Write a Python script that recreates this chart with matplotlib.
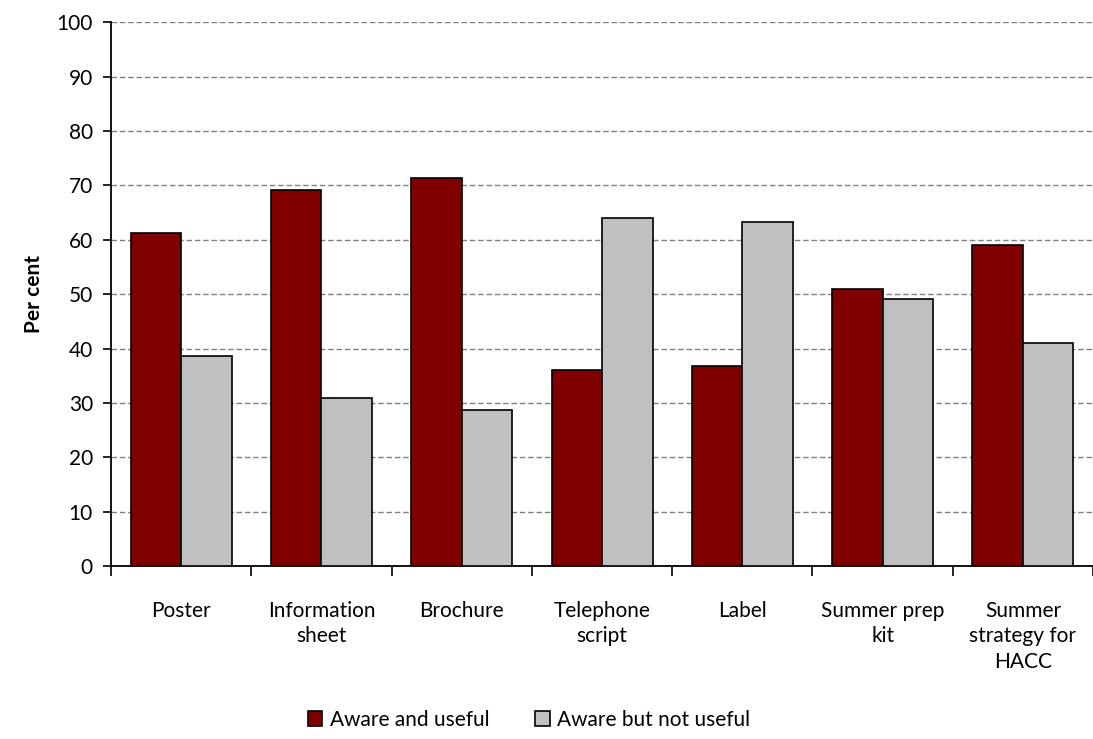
import numpy as np
import matplotlib.pyplot as plt
from matplotlib import rcParams

rcParams['font.family'] = ['Lato', 'DejaVu Sans']

categories = ["Poster", "Information\nsheet", "Brochure", "Telephone\nscript",
              "Label", "Summer prep\nkit", "Summer\nstrategy for\nHACC"]
aware_useful = [61.3, 69.1, 71.3, 36.0, 36.7, 50.9, 59.0]
aware_not_useful = [38.7, 30.9, 28.7, 64.0, 63.3, 49.1, 41.0]
series_names = ["Aware and useful", "Aware but not useful"]
y_ticks = list(range(0, 101, 10))


def main():
    fig = plt.figure(figsize=(10.93, 7.39), dpi=100)
    ax = fig.add_axes([0.1016, 0.234, 0.8984, 0.736])

    x = np.arange(len(categories))
    w = 0.36
    ax.bar(x - w / 2, aware_useful, w, color="#800000", edgecolor="black",
           linewidth=1.2, label=series_names[0], zorder=3)
    ax.bar(x + w / 2, aware_not_useful, w, color="#c0c0c0", edgecolor="black",
           linewidth=1.2, label=series_names[1], zorder=3)

    ax.set_xlim(-0.5, len(categories) - 0.5)
    ax.set_ylim(0, 100)
    ax.set_yticks(y_ticks)
    ax.yaxis.grid(True, linestyle=(0, (4, 2)), color="#808080", linewidth=1.0, zorder=0)
    ax.set_axisbelow(True)

    # category boundaries as major ticks, labels on minor ticks
    ax.set_xticks(np.arange(len(categories) + 1) - 0.5)
    ax.set_xticklabels([])
    ax.set_xticks(x, minor=True)
    ax.set_xticklabels(categories, minor=True, fontsize=15, linespacing=1.35)
    ax.tick_params(axis="x", which="minor", length=0, pad=25)
    ax.tick_params(axis="x", which="major", length=7, width=1.2, direction="out")
    ax.tick_params(axis="y", length=6, width=1.2, labelsize=15, pad=7)

    for side in ["top", "right"]:
        ax.spines[side].set_visible(False)
    ax.spines["left"].set_linewidth(1.3)
    ax.spines["bottom"].set_linewidth(1.3)

    ax.set_ylabel("Per cent", fontsize=15, fontweight="bold", labelpad=9)

    fig.legend(loc="center", bbox_to_anchor=(0.484, 0.026), ncol=2, frameon=False,
               fontsize=15, handlelength=0.7, handleheight=0.7, handletextpad=0.35,
               columnspacing=2.2)

    fig.savefig("out.png", dpi=100)


if __name__ == "__main__":
    main()
